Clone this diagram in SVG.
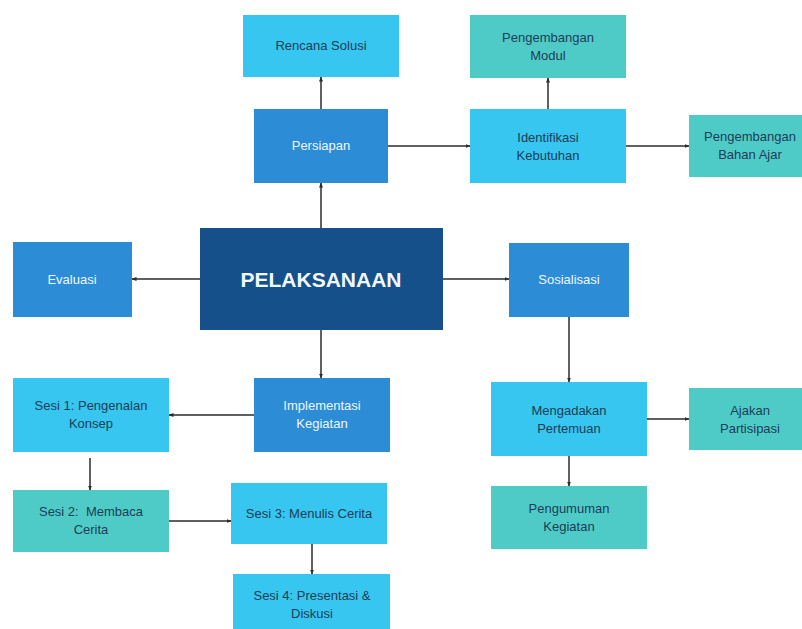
<svg xmlns="http://www.w3.org/2000/svg" width="802" height="629" viewBox="0 0 802 629">
  <defs>
    <marker id="ah" viewBox="0 0 10 10" refX="9" refY="5" markerWidth="5" markerHeight="5" orient="auto" markerUnits="userSpaceOnUse">
      <path d="M0,1 L10,5 L0,9 z" fill="#2b2b2b"/>
    </marker>
    <style>
      .navy{fill:#16508a}
      .blue{fill:#2c8cd6}
      .cyan{fill:#36c6ef}
      .teal{fill:#4fcbc7}
      text{font-family:"Liberation Sans",Arial,sans-serif;font-size:13px;text-anchor:middle}
      .lt{fill:#eef7ff}
      .dk{fill:#1d3d58}
      .big{font-size:21px;font-weight:bold;fill:#f2f8ff}
      .conn line{stroke:#2b2b2b;stroke-width:1.5;fill:none;marker-end:url(#ah)}
    </style>
  </defs>
  <rect width="802" height="629" fill="#ffffff"/>

  <g id="rencana-solusi">
    <rect class="cyan" x="243" y="15" width="156" height="62"/>
    <text class="dk" x="321" y="50">Rencana Solusi</text>
  </g>
  <g id="persiapan">
    <rect class="blue" x="254" y="109" width="134" height="74"/>
    <text class="lt" x="321" y="150">Persiapan</text>
  </g>
  <g id="pengembangan-modul">
    <rect class="teal" x="470" y="15" width="156" height="63"/>
    <text class="dk" x="548" y="42">Pengembangan</text>
    <text class="dk" x="548" y="60">Modul</text>
  </g>
  <g id="identifikasi-kebutuhan">
    <rect class="cyan" x="470" y="109" width="156" height="74"/>
    <text class="dk" x="548" y="142">Identifikasi</text>
    <text class="dk" x="548" y="160">Kebutuhan</text>
  </g>
  <g id="pengembangan-bahan-ajar">
    <rect class="teal" x="689" y="115" width="123" height="62"/>
    <text class="dk" x="750" y="141">Pengembangan</text>
    <text class="dk" x="750" y="159">Bahan Ajar</text>
  </g>
  <g id="pelaksanaan">
    <rect class="navy" x="200" y="228" width="243" height="102"/>
    <text class="big" x="321" y="287">PELAKSANAAN</text>
  </g>
  <g id="evaluasi">
    <rect class="blue" x="13" y="242" width="119" height="75"/>
    <text class="lt" x="72" y="284">Evaluasi</text>
  </g>
  <g id="sosialisasi">
    <rect class="blue" x="509" y="243" width="120" height="74"/>
    <text class="lt" x="569" y="284">Sosialisasi</text>
  </g>
  <g id="implementasi-kegiatan">
    <rect class="blue" x="254" y="378" width="136" height="74"/>
    <text class="lt" x="322" y="410">Implementasi</text>
    <text class="lt" x="322" y="428">Kegiatan</text>
  </g>
  <g id="sesi-1">
    <rect class="cyan" x="13" y="378" width="156" height="74"/>
    <text class="dk" x="91" y="410">Sesi 1: Pengenalan</text>
    <text class="dk" x="91" y="428">Konsep</text>
  </g>
  <g id="sesi-2">
    <rect class="teal" x="13" y="490" width="156" height="62"/>
    <text class="dk" x="91" y="516" style="white-space:pre">Sesi 2:  Membaca</text>
    <text class="dk" x="91" y="534">Cerita</text>
  </g>
  <g id="sesi-3">
    <rect class="cyan" x="231" y="483" width="156" height="61"/>
    <text class="dk" x="309" y="518">Sesi 3: Menulis Cerita</text>
  </g>
  <g id="sesi-4">
    <rect class="cyan" x="233" y="574" width="157" height="60"/>
    <text class="dk" x="312" y="600">Sesi 4: Presentasi &amp;</text>
    <text class="dk" x="312" y="618">Diskusi</text>
  </g>
  <g id="mengadakan-pertemuan">
    <rect class="cyan" x="491" y="382" width="156" height="74"/>
    <text class="dk" x="569" y="415">Mengadakan</text>
    <text class="dk" x="569" y="433">Pertemuan</text>
  </g>
  <g id="ajakan-partisipasi">
    <rect class="teal" x="689" y="388" width="123" height="62"/>
    <text class="dk" x="750" y="415">Ajakan</text>
    <text class="dk" x="750" y="433">Partisipasi</text>
  </g>
  <g id="pengumuman-kegiatan">
    <rect class="teal" x="491" y="486" width="156" height="63"/>
    <text class="dk" x="569" y="513">Pengumuman</text>
    <text class="dk" x="569" y="531">Kegiatan</text>
  </g>

  <g id="connectors" class="conn">
    <line x1="321" y1="228" x2="321" y2="183"/>
    <line x1="321" y1="109" x2="321" y2="77"/>
    <line x1="388" y1="146" x2="470" y2="146"/>
    <line x1="548" y1="109" x2="548" y2="78"/>
    <line x1="626" y1="146" x2="689" y2="146"/>
    <line x1="200" y1="279" x2="132" y2="279"/>
    <line x1="443" y1="279" x2="509" y2="279"/>
    <line x1="321" y1="330" x2="321" y2="378"/>
    <line x1="254" y1="415" x2="169" y2="415"/>
    <line x1="90" y1="458" x2="90" y2="490"/>
    <line x1="169" y1="521" x2="231" y2="521"/>
    <line x1="312" y1="544" x2="312" y2="574"/>
    <line x1="569" y1="317" x2="569" y2="382"/>
    <line x1="647" y1="419" x2="689" y2="419"/>
    <line x1="569" y1="456" x2="569" y2="486"/>
  </g>
</svg>
